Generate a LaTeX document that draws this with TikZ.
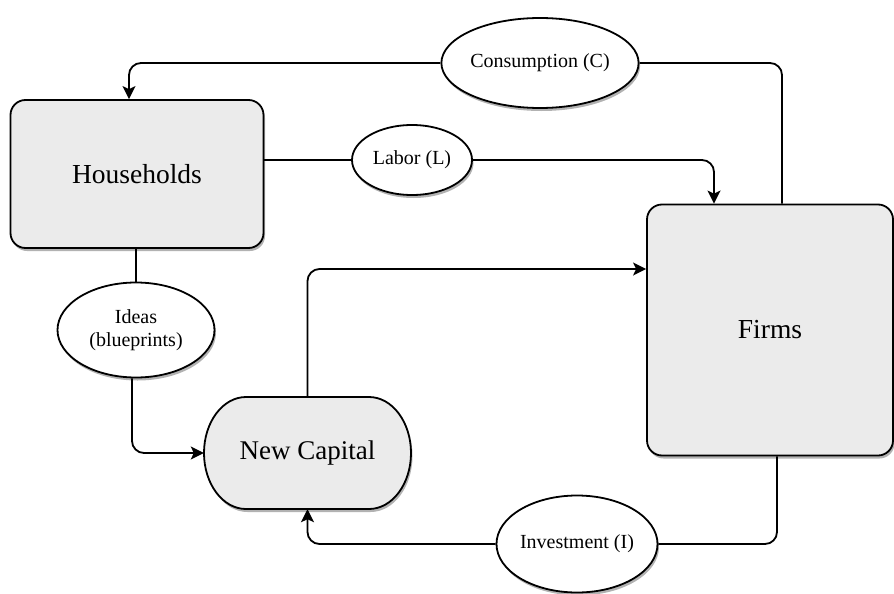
\documentclass[tikz,border=0pt]{standalone}
\usepackage{fontspec}
\setmainfont{Liberation Serif}
\usetikzlibrary{shapes.geometric,arrows.meta,shadows}
\begin{document}
\begin{tikzpicture}[x=1pt,y=-1pt,
  shade/.style={drop shadow={shadow xshift=1.5pt,shadow yshift=-3pt,opacity=0.3,fill=black}},
  boxnode/.style={draw,line width=1.8pt,rounded corners=15pt,fill=black!8,shade,
    minimum width=#1,inner sep=0pt,font=\fontsize{27.5}{30}\selectfont},
  oval/.style={draw,line width=1.8pt,ellipse,fill=white,shade,inner sep=0pt,
    font=\fontsize{20}{23}\selectfont,align=center},
  link/.style={line width=1.8pt,rounded corners=12pt},
  arr/.style={link,-{Stealth[length=13pt,width=13pt,inset=3pt]}}]
\useasboundingbox (0,0) rectangle (894,594);

% main boxes
\node[boxnode=253pt,minimum height=148pt] (hh) at (137,174) {Households};
\node[boxnode=246pt,minimum height=251pt] (firms) at (770,330) {Firms};

% new capital (stadium with elliptical ends)
\draw[line width=1.8pt,fill=black!8,shade]
  (246,397) -- (369,397) arc[start angle=90,end angle=-90,x radius=42pt,y radius=56pt]
  -- (246,509) arc[start angle=270,end angle=90,x radius=42pt,y radius=56pt] -- cycle;
\node[minimum width=207pt,minimum height=112pt,inner sep=0pt,
  font=\fontsize{27}{30}\selectfont] (cap) at (307.5,453) {New Capital};

% ellipses
\node[oval,minimum width=170pt,minimum height=90pt] (cons) at (540,63) {Consumption (C)};
\node[oval,minimum width=120pt,minimum height=70pt] (labor) at (412,160) {Labor (L)};
\node[oval,minimum width=157pt,minimum height=95pt] (ideas) at (136,330) {Ideas\\(blueprints)};
\node[oval,minimum width=156pt,minimum height=97pt] (inv) at (577,544) {Investment (I)};

% helper coordinates
\coordinate (xcons) at (782,0);
\coordinate (xhh) at (129,0);
\coordinate (xlab) at (714,0);
\coordinate (xidea) at (132,0);
\coordinate (ycap) at (0,269);
\coordinate (xinv) at (777,0);

% connectors
\draw[link] (firms.north -| xcons) |- (cons.east);
\draw[arr] (cons.west) -| (hh.north -| xhh);
\draw[link] (hh.east |- labor.west) -- (labor.west);
\draw[arr] (labor.east) -| (firms.north -| xlab);
\draw[link] (hh.south -| ideas.north) -- (ideas.north);
\draw[arr] (ideas.south -| xidea) |- (cap.west);
\draw[arr] (cap.north) |- (firms.west |- ycap);
\draw[link] (firms.south -| xinv) |- (inv.east);
\draw[arr] (inv.west) -| (cap.south);
\end{tikzpicture}
\end{document}
